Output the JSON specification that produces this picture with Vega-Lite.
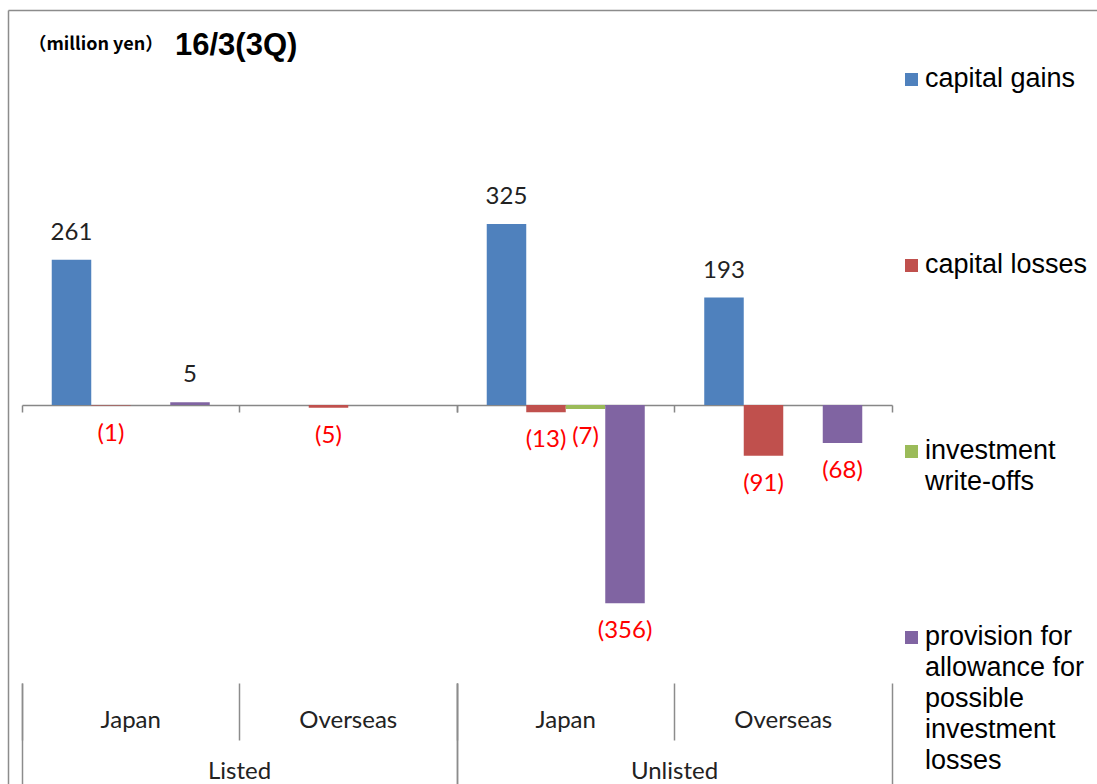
{
  "$schema": "https://vega.github.io/schema/vega-lite/v6.json",
  "autosize": {"type": "none"},
  "padding": {"left": 8, "top": 10, "right": 0, "bottom": 0},
  "width": 1089,
  "height": 774,
  "background": "white",
  "title": {
    "text": "16/3(3Q)",
    "anchor": "start",
    "frame": "group",
    "orient": "top",
    "offset": 0,
    "dx": 167,
    "dy": 76,
    "baseline": "alphabetic",
    "font": "Liberation Sans",
    "fontSize": 31,
    "fontWeight": "bold",
    "color": "#000000"
  },
  "config": {
    "view": {"stroke": null},
    "text": {"font": "Lato"}
  },
  "data": {
    "values": [
      {"listing": "Listed", "group": "Listed Japan", "series": "capital gains", "value": 261},
      {"listing": "Listed", "group": "Listed Japan", "series": "capital losses", "value": -1},
      {"listing": "Listed", "group": "Listed Japan", "series": "investment write-offs", "value": 0},
      {"listing": "Listed", "group": "Listed Japan", "series": "provision for allowance for possible investment losses", "value": 5},
      {"listing": "Listed", "group": "Listed Overseas", "series": "capital gains", "value": 0},
      {"listing": "Listed", "group": "Listed Overseas", "series": "capital losses", "value": -5},
      {"listing": "Listed", "group": "Listed Overseas", "series": "investment write-offs", "value": 0},
      {"listing": "Listed", "group": "Listed Overseas", "series": "provision for allowance for possible investment losses", "value": 0},
      {"listing": "Unlisted", "group": "Unlisted Japan", "series": "capital gains", "value": 325},
      {"listing": "Unlisted", "group": "Unlisted Japan", "series": "capital losses", "value": -13},
      {"listing": "Unlisted", "group": "Unlisted Japan", "series": "investment write-offs", "value": -7},
      {"listing": "Unlisted", "group": "Unlisted Japan", "series": "provision for allowance for possible investment losses", "value": -356},
      {"listing": "Unlisted", "group": "Unlisted Overseas", "series": "capital gains", "value": 193},
      {"listing": "Unlisted", "group": "Unlisted Overseas", "series": "capital losses", "value": -91},
      {"listing": "Unlisted", "group": "Unlisted Overseas", "series": "investment write-offs", "value": 0},
      {"listing": "Unlisted", "group": "Unlisted Overseas", "series": "provision for allowance for possible investment losses", "value": -68}
    ]
  },
  "layer": [
    {
      "mark": {"type": "bar"},
      "encoding": {
        "x": {
          "field": "group", "type": "nominal",
          "scale": {"domain": ["Listed Japan", "Listed Overseas", "Unlisted Japan", "Unlisted Overseas"], "range": [14, 884], "paddingInner": 0, "paddingOuter": 0},
          "axis": {
            "orient": "bottom", "offset": -379, "bandPosition": 0,
            "labels": false, "title": null, "grid": false,
            "domainColor": "#878787", "domainWidth": 1.5,
            "tickColor": "#878787", "tickWidth": 1.5, "tickSize": 7
          }
        },
        "xOffset": {
          "field": "series", "type": "nominal",
          "scale": {
            "domain": ["capital gains", "capital losses", "investment write-offs", "provision for allowance for possible investment losses"],
            "paddingInner": 0, "paddingOuter": 0.753
          }
        },
        "y": {
          "field": "value", "type": "quantitative",
          "scale": {"domain": [-680.4, 709.2], "nice": false, "zero": false},
          "axis": {
            "domain": true, "domainColor": "#8c8c8c", "domainWidth": 1.5,
            "ticks": false, "labels": false, "grid": false,
            "title": "（million yen）", "titleAngle": 0, "titleX": 20, "titleY": 34,
            "titleAlign": "left", "titleBaseline": "middle",
            "titleFont": "Noto Sans CJK JP", "titleFontSize": 18, "titleFontWeight": "bold",
            "titleColor": "#000000"
          }
        },
        "color": {
          "field": "series", "type": "nominal",
          "scale": {
            "domain": ["capital gains", "capital losses", "investment write-offs", "provision for allowance for possible investment losses"],
            "range": ["#4F81BD", "#C0504D", "#9BBB59", "#8064A2"]
          },
          "legend": {
            "orient": "none", "legendX": 890, "legendY": 56,
            "title": null, "direction": "vertical", "columns": 1,
            "symbolType": "square", "symbolSize": 169, "symbolStrokeWidth": 0,
            "labelFont": "Liberation Sans", "labelFontSize": 27, "labelColor": "#000000",
            "labelLimit": 0, "labelBaseline": "top", "labelOffset": 0,
            "gridAlign": "all", "rowPadding": 34,
            "labelExpr": "datum.label == 'investment write-offs' ? ['investment', 'write-offs'] : datum.label == 'provision for allowance for possible investment losses' ? ['provision for', 'allowance for', 'possible', 'investment', 'losses'] : datum.label",
            "encode": {"labels": {"update": {"lineHeight": {"value": 31}, "dy": {"value": -14}}}}
          }
        }
      }
    },
    {
      "transform": [{"filter": "datum.value > 0"}],
      "mark": {"type": "text", "baseline": "middle", "dy": -27, "fontSize": 24, "color": "#222222"},
      "encoding": {
        "x": {
          "field": "group", "type": "nominal",
          "scale": {"domain": ["Listed Japan", "Listed Overseas", "Unlisted Japan", "Unlisted Overseas"], "range": [14, 884], "paddingInner": 0, "paddingOuter": 0},
          "axis": {
            "orient": "bottom", "offset": -101, "bandPosition": 0,
            "domain": false, "grid": false, "title": null,
            "tickColor": "#8c8c8c", "tickWidth": 1.5, "tickSize": 57,
            "labelExpr": "split(datum.label, ' ')[1]",
            "labelPadding": -20, "labelBaseline": "middle",
            "labelFont": "Lato", "labelFontSize": 24, "labelColor": "#222222", "labelAngle": 0
          }
        },
        "xOffset": {
          "field": "series", "type": "nominal",
          "scale": {
            "domain": ["capital gains", "capital losses", "investment write-offs", "provision for allowance for possible investment losses"],
            "paddingInner": 0, "paddingOuter": 0.753
          }
        },
        "y": {
          "field": "value", "type": "quantitative",
          "axis": {
            "domain": true, "domainColor": "#8c8c8c", "domainWidth": 1.5,
            "ticks": false, "labels": false, "grid": false,
            "title": "（million yen）", "titleAngle": 0, "titleX": 20, "titleY": 34,
            "titleAlign": "left", "titleBaseline": "middle",
            "titleFont": "Noto Sans CJK JP", "titleFontSize": 18, "titleFontWeight": "bold",
            "titleColor": "#000000"
          }
        },
        "text": {"field": "value", "type": "quantitative", "format": "(d"}
      }
    },
    {
      "transform": [{"filter": "datum.value < 0"}],
      "mark": {"type": "text", "baseline": "middle", "dy": 28, "fontSize": 24, "color": "#FF0000"},
      "encoding": {
        "x": {
          "field": "group", "type": "nominal",
          "scale": {"domain": ["Listed Japan", "Listed Overseas", "Unlisted Japan", "Unlisted Overseas"], "range": [14, 884], "paddingInner": 0, "paddingOuter": 0},
          "axis": null
        },
        "xOffset": {
          "field": "series", "type": "nominal",
          "scale": {
            "domain": ["capital gains", "capital losses", "investment write-offs", "provision for allowance for possible investment losses"],
            "paddingInner": 0, "paddingOuter": 0.753
          }
        },
        "y": {
          "field": "value", "type": "quantitative",
          "axis": {
            "domain": true, "domainColor": "#8c8c8c", "domainWidth": 1.5,
            "ticks": false, "labels": false, "grid": false,
            "title": "（million yen）", "titleAngle": 0, "titleX": 20, "titleY": 34,
            "titleAlign": "left", "titleBaseline": "middle",
            "titleFont": "Noto Sans CJK JP", "titleFontSize": 18, "titleFontWeight": "bold",
            "titleColor": "#000000"
          }
        },
        "text": {"field": "value", "type": "quantitative", "format": "(d"}
      }
    },
    {
      "mark": {"type": "tick", "opacity": 0},
      "encoding": {
        "x": {
          "field": "listing", "type": "nominal",
          "scale": {"domain": ["Listed", "Unlisted"], "range": [14, 884], "paddingInner": 0, "paddingOuter": 0},
          "axis": {
            "orient": "bottom", "offset": -101, "bandPosition": 0,
            "domain": false, "grid": false, "title": null,
            "tickColor": "#8c8c8c", "tickWidth": 1.5, "tickSize": 101,
            "labelPadding": -13, "labelBaseline": "middle",
            "labelFont": "Lato", "labelFontSize": 24, "labelColor": "#222222", "labelAngle": 0
          }
        }
      }
    },
    {
      "mark": {"type": "tick", "opacity": 0},
      "encoding": {
        "x": {
          "field": "listing", "type": "nominal",
          "scale": {"domain": ["Listed", "Unlisted"], "range": [14, 884], "paddingInner": 0, "paddingOuter": 0},
          "axis": {
            "orient": "bottom", "offset": -101, "bandPosition": 1,
            "domain": false, "grid": false, "title": null, "labels": false,
            "tickColor": "#8c8c8c", "tickWidth": 1.5, "tickSize": 101
          }
        }
      }
    },
    {
      "mark": {"type": "tick", "opacity": 0},
      "encoding": {
        "x": {
          "field": "listing", "type": "nominal",
          "scale": {"domain": ["Listed", "Unlisted"], "range": [14, 884], "paddingInner": 0, "paddingOuter": 0},
          "axis": {
            "orient": "bottom", "offset": -379, "bandPosition": 1,
            "domain": false, "grid": false, "title": null, "labels": false,
            "tickColor": "#878787", "tickWidth": 1.5, "tickSize": 7
          }
        }
      }
    },
    {
      "mark": {"type": "tick", "opacity": 0},
      "encoding": {
        "x": {
          "field": "listing", "type": "nominal",
          "scale": {"domain": ["Listed", "Unlisted"], "range": [0, 1100], "paddingInner": 0, "paddingOuter": 0},
          "axis": {
            "orient": "top", "domain": true, "domainColor": "#8c8c8c", "domainWidth": 1.5,
            "ticks": false, "labels": false, "grid": false, "title": null
          }
        }
      }
    }
  ],
  "resolve": {"scale": {"x": "independent"}, "axis": {"x": "independent"}}
}
